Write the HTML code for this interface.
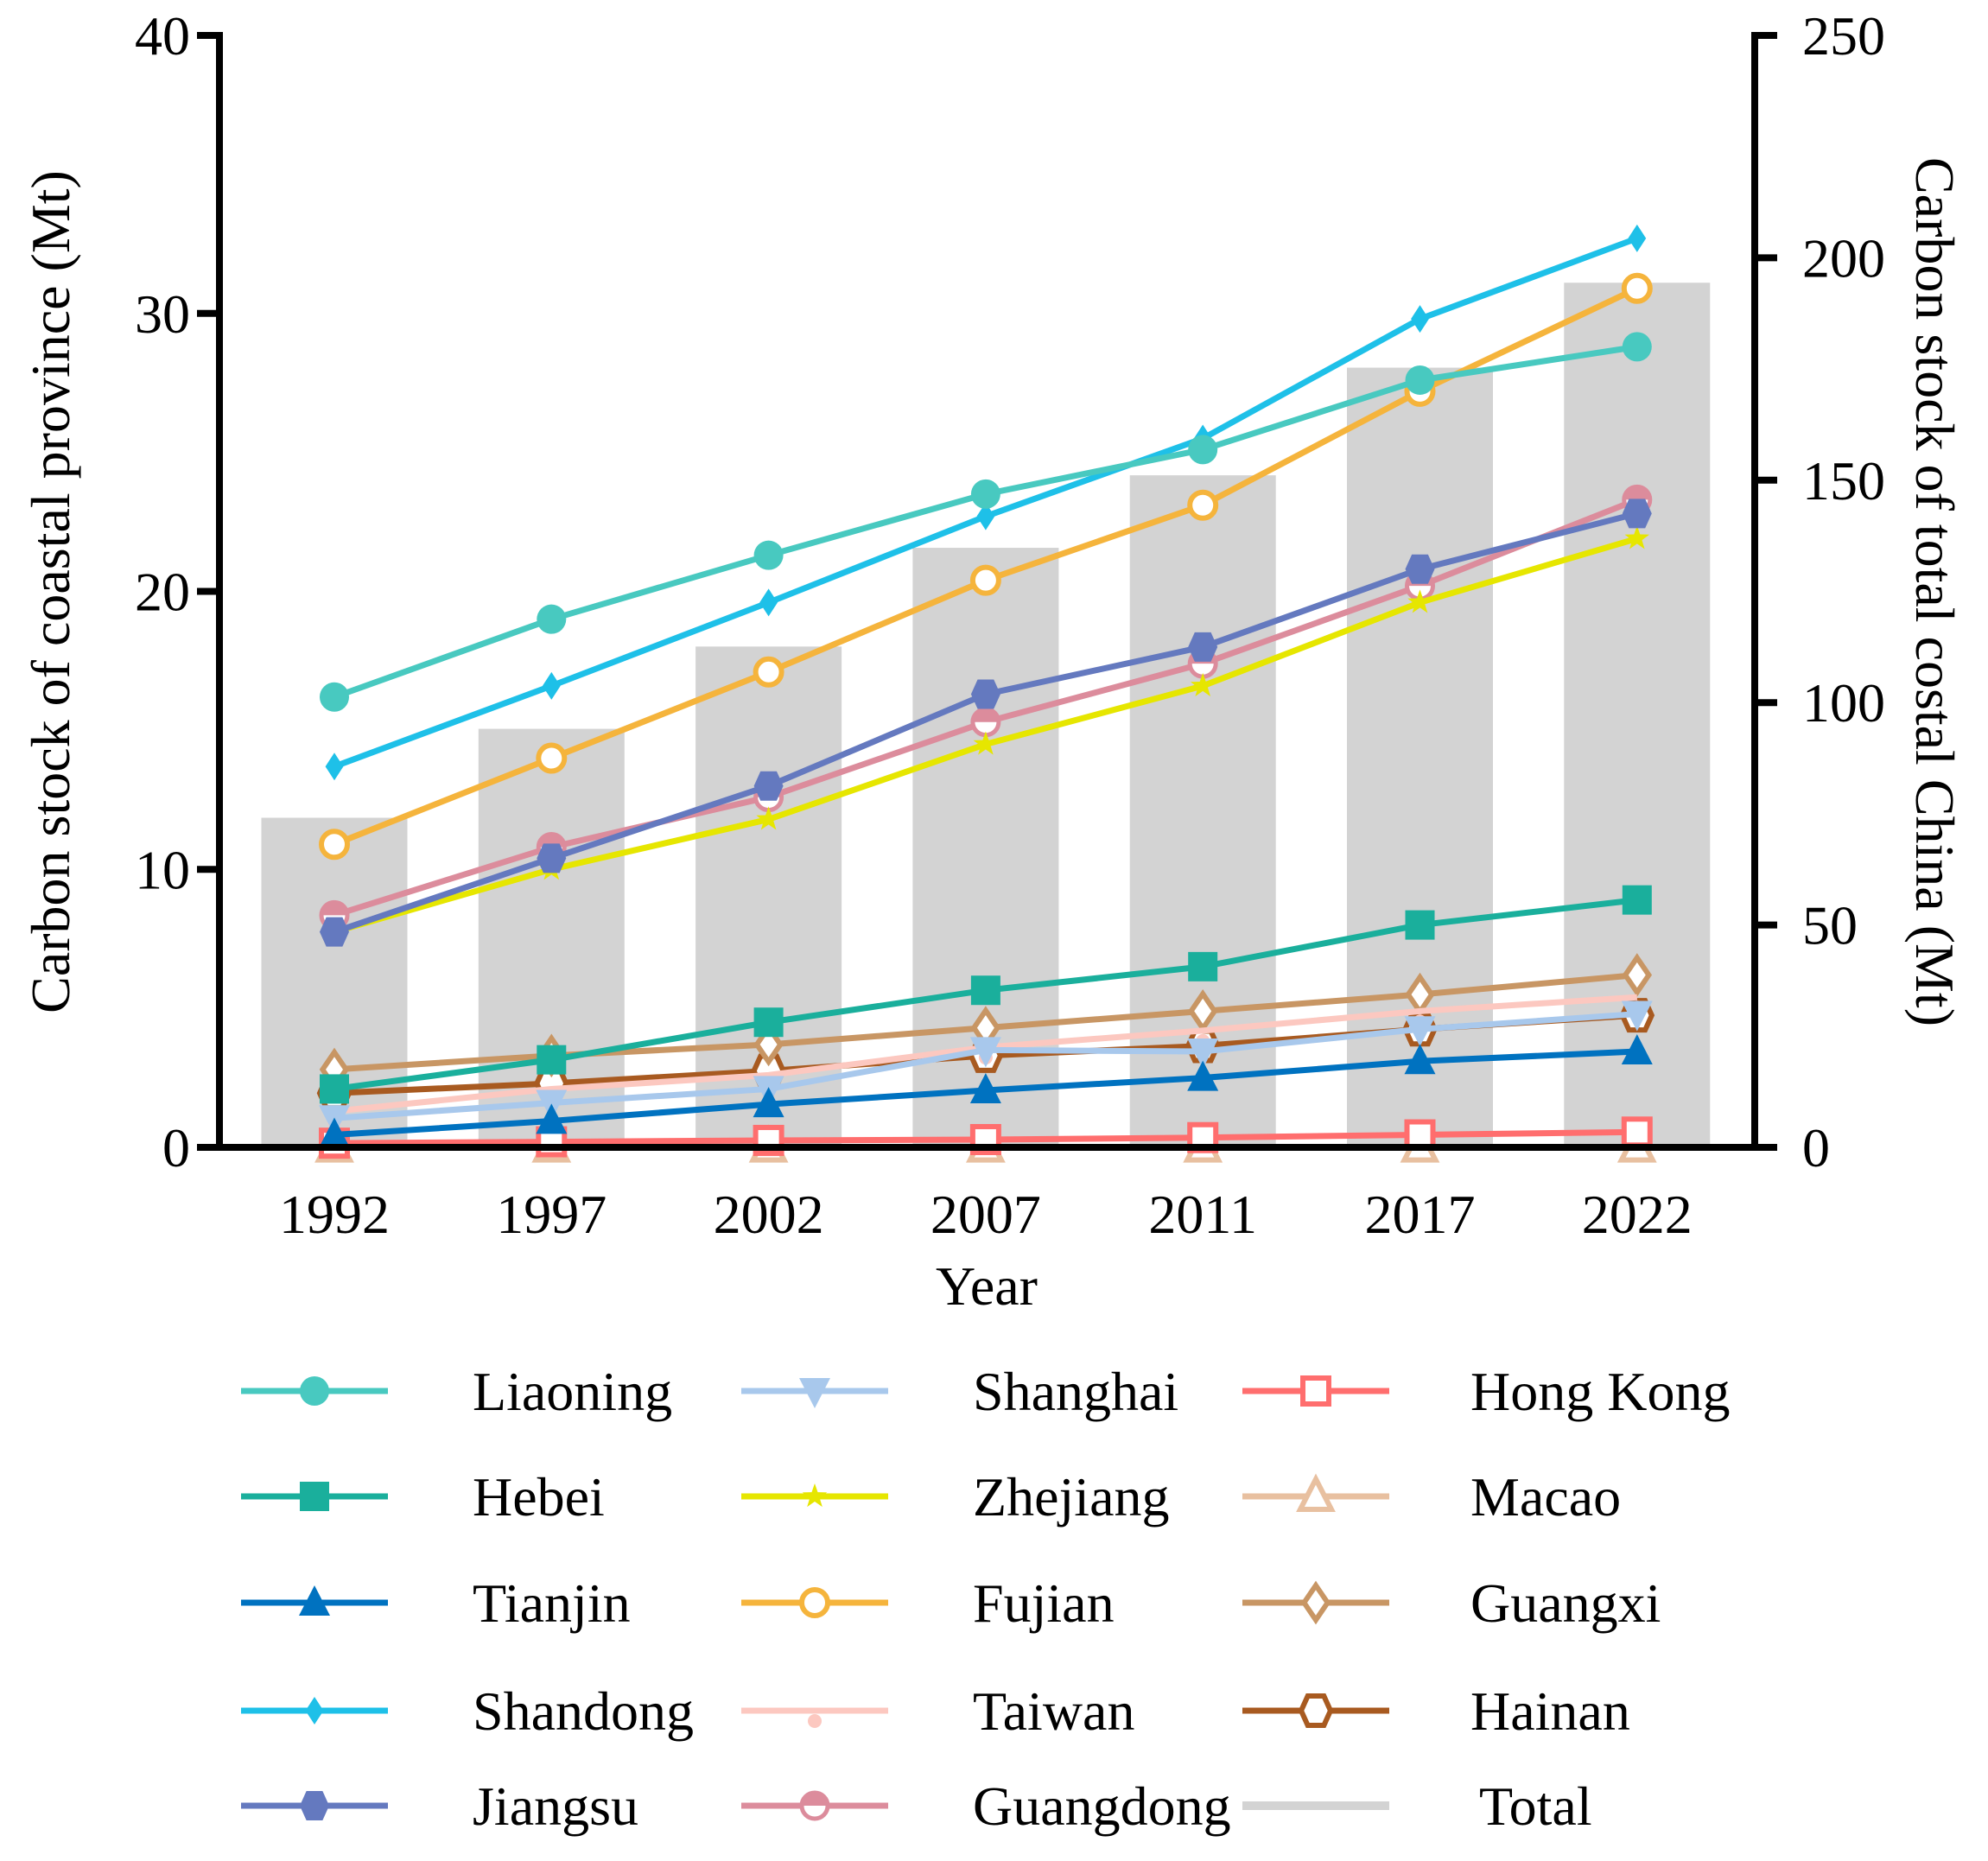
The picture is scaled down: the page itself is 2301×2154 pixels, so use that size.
<!DOCTYPE html>
<html><head><meta charset="utf-8"><style>
html,body{margin:0;padding:0;background:#fff}
svg text{font-family:"Liberation Serif","Times New Roman",serif;fill:#000}
</style></head><body>
<svg id="chart" width="2301" height="2149" viewBox="0 0 2301 2149" xmlns="http://www.w3.org/2000/svg" font-family="Liberation Serif, serif">
<g id="bars"></g>
<g id="lines"></g>
<g id="axes"></g>
<g id="legend"></g>
</svg>
<script>
const categories = ["1992","1997","2002","2007","2011","2017","2022"];
const totalValues = [74.1,94.1,112.6,134.8,151.1,175.3,194.4];
const liaoning = [16.2,19.0,21.3,23.5,25.1,27.6,28.8];
const hebei = [2.1,3.15,4.5,5.65,6.5,8.0,8.9];
const tianjin = [0.45,0.95,1.55,2.05,2.5,3.1,3.45];
const shandong = [13.7,16.6,19.6,22.7,25.5,29.8,32.7];
const jiangsu = [7.75,10.4,13.0,16.3,18.0,20.8,22.8];
const shanghai = [1.05,1.6,2.1,3.5,3.45,4.25,4.8];
const zhejiang = [7.75,10.0,11.8,14.5,16.6,19.6,21.9];
const fujian = [10.9,14.0,17.1,20.4,23.1,27.2,30.9];
const taiwan = [1.3,2.1,2.6,3.6,4.2,4.9,5.4];
const guangdong = [8.35,10.8,12.6,15.3,17.4,20.2,23.3];
const hongkong = [0.15,0.2,0.25,0.28,0.35,0.45,0.55];
const macao = [0.01,0.01,0.01,0.01,0.01,0.01,0.01];
const guangxi = [2.8,3.3,3.7,4.3,4.9,5.5,6.2];
const hainan = [1.95,2.3,2.75,3.3,3.65,4.25,4.75];
const leftTicks = [0,10,20,30,40];
const rightTicks = [0,50,100,150,200,250];

const NS="http://www.w3.org/2000/svg";
const X0=254,X1=2031,Y0=1328,YT=41;
const xPos=i=>387+i*251.3;
const yL=v=>Y0-(v/40)*(Y0-YT);
const yR=v=>Y0-(v/250)*(Y0-YT);
function mk(tag,attrs,parent){const e=document.createElementNS(NS,tag);for(const k in attrs)e.setAttribute(k,attrs[k]);parent.appendChild(e);return e;}

const series=[
 {name:"Liaoning",data:liaoning,color:"#48c9c0",m:"circle",fill:true},
 {name:"Hebei",data:hebei,color:"#1aaf9c",m:"square",fill:true},
 {name:"Tianjin",data:tianjin,color:"#0072c0",m:"tri",fill:true},
 {name:"Shandong",data:shandong,color:"#1ec0e8",m:"diamond",fill:true,small:true},
 {name:"Jiangsu",data:jiangsu,color:"#6479bf",m:"hex",fill:true},
 {name:"Shanghai",data:shanghai,color:"#a8c8ec",m:"dtri",fill:true},
 {name:"Zhejiang",data:zhejiang,color:"#e6e600",m:"star",fill:true},
 {name:"Fujian",data:fujian,color:"#f5b43c",m:"circle",fill:false},
 {name:"Taiwan",data:taiwan,color:"#fcc8c0",m:"dot",fill:true},
 {name:"Guangdong",data:guangdong,color:"#dc8c9c",m:"circle",fill:"half"},
 {name:"Hong Kong",data:hongkong,color:"#ff6e6e",m:"square",fill:false},
 {name:"Macao",data:macao,color:"#e8c0a0",m:"tri",fill:false},
 {name:"Guangxi",data:guangxi,color:"#c89664",m:"diamond",fill:false},
 {name:"Hainan",data:hainan,color:"#a85a20",m:"hex",fill:false}
];

function marker(s,cx,cy,parent,name){
 const r=17, f=s.fill===true?s.color:"#fff", sw=s.fill===true?0:6;
 let e;
 const poly=pts=>mk("polygon",{points:pts.map(p=>(cx+p[0])+","+(cy+p[1])).join(" "),fill:f,stroke:s.color,"stroke-width":sw},parent);
 switch(s.m){
  case "circle": e=mk("circle",{cx:cx,cy:cy,r:s.fill===true?r:r-2,fill:f,stroke:s.color,"stroke-width":sw},parent);
    if(s.fill==="half"){e.setAttribute("stroke-width",5);mk("path",{d:`M${cx-r+2} ${cy} A${r-2} ${r-2} 0 0 1 ${cx+r-2} ${cy} Z`,fill:s.color},parent);} break;
  case "square": e=mk("rect",{x:cx-r+(s.fill===true?0:2),y:cy-r+(s.fill===true?0:2),width:2*r-(s.fill===true?0:4),height:2*r-(s.fill===true?0:4),fill:f,stroke:s.color,"stroke-width":sw},parent); break;
  case "tri": e=poly([[0,-r-3],[r+1,r-2],[-r-1,r-2]]); break;
  case "dtri": e=poly([[0,r+3],[r+1,-r+2],[-r-1,-r+2]]); break;
  case "diamond": {const a=s.small?13:r;e=poly([[0,-a-3],[a*0.8,0],[0,a+3],[-a*0.8,0]]);} break;
  case "hex": e=poly([[-r*0.55,-r],[r*0.55,-r],[r,0],[r*0.55,r],[-r*0.55,r],[-r,0]]); break;
  case "star": {const pts=[];for(let k=0;k<10;k++){const a=-Math.PI/2+k*Math.PI/5,rr=k%2?6:15;pts.push([rr*Math.cos(a),rr*Math.sin(a)]);}e=poly(pts);} break;
  case "dot": e=mk("circle",{cx:cx,cy:cy+12,r:8,fill:s.color},parent); break;
 }
 
 
}

const gb=document.getElementById("bars");
totalValues.forEach((v,i)=>{
 const b=mk("rect",{x:xPos(i)-84.5,y:yR(v),width:169,height:Y0-yR(v),fill:"#d3d3d3"},gb);
 
 
});
const gl=document.getElementById("lines");
series.slice().reverse().forEach(s=>{
 const g=mk("g",{},gl);
 
 
 const l=mk("polyline",{points:s.data.map((v,i)=>xPos(i)+","+yL(v)).join(" "),fill:"none",stroke:s.color,"stroke-width":7,"stroke-linejoin":"round"},g);
 
 
 s.data.forEach((v,i)=>marker(s,xPos(i),yL(v),g,'marker-'+s.name.toLowerCase().replace(' ','-')+'-'+categories[i]));
});
const ga=document.getElementById("axes");
mk("line",{x1:X0,y1:YT-4,x2:X0,y2:Y0+4,stroke:"#000","stroke-width":8},ga);
mk("line",{x1:X1,y1:YT-4,x2:X1,y2:Y0+4,stroke:"#000","stroke-width":8},ga);
mk("line",{x1:X0-4,y1:Y0,x2:X1+4,y2:Y0,stroke:"#000","stroke-width":8},ga);
leftTicks.forEach(v=>{
 mk("line",{x1:X0-26,y1:yL(v),x2:X0,y2:yL(v),stroke:"#000","stroke-width":8},ga);
 const t=mk("text",{x:X0-34,y:yL(v)+22,"text-anchor":"end","font-size":64},ga);t.textContent=v;
 
 
});
rightTicks.forEach(v=>{
 mk("line",{x1:X1,y1:yR(v),x2:X1+26,y2:yR(v),stroke:"#000","stroke-width":8},ga);
 const t=mk("text",{x:X1+55,y:yR(v)+22,"text-anchor":"start","font-size":64},ga);t.textContent=v;
 
 
});
categories.forEach((c,i)=>{
 const t=mk("text",{x:xPos(i),y:1427,"text-anchor":"middle","font-size":64},ga);t.textContent=c;
 
 
});
let t=mk("text",{x:1142,y:1510,"text-anchor":"middle","font-size":64},ga);t.textContent="Year";


t=mk("text",{x:0,y:0,"text-anchor":"middle","font-size":64,transform:"translate(80,685) rotate(-90)"},ga);t.textContent="Carbon stock of coastal province (Mt)";


t=mk("text",{x:0,y:0,"text-anchor":"middle","font-size":64,transform:"translate(2218,685) rotate(90)"},ga);t.textContent="Carbon stock of total costal China (Mt)";


const gg=document.getElementById("legend");
const cols=[[279,547],[858,1126],[1438,1702]];
const rows=[1610,1732,1855,1980,2090];
const legItems=series.concat([{name:"Total",color:"#d3d3d3",m:"none"}]);
legItems.forEach((s,k)=>{
 const c=Math.floor(k/5),r=k%5,[lx,tx]=cols[c],y=rows[r];
 const g=mk("g",{},gg);
 
 
 mk("line",{x1:lx,y1:y,x2:lx+170,y2:y,stroke:s.color,"stroke-width":s.m==="none"?10:7},g);
 if(s.m!=="none")marker(s,lx+85,y,g,'legend-marker');
 const tt=mk("text",{x:s.name==="Total"?tx+10:tx,y:y+22,"font-size":64},g);tt.textContent=s.name;
 
 
});
</script>
</body></html>
